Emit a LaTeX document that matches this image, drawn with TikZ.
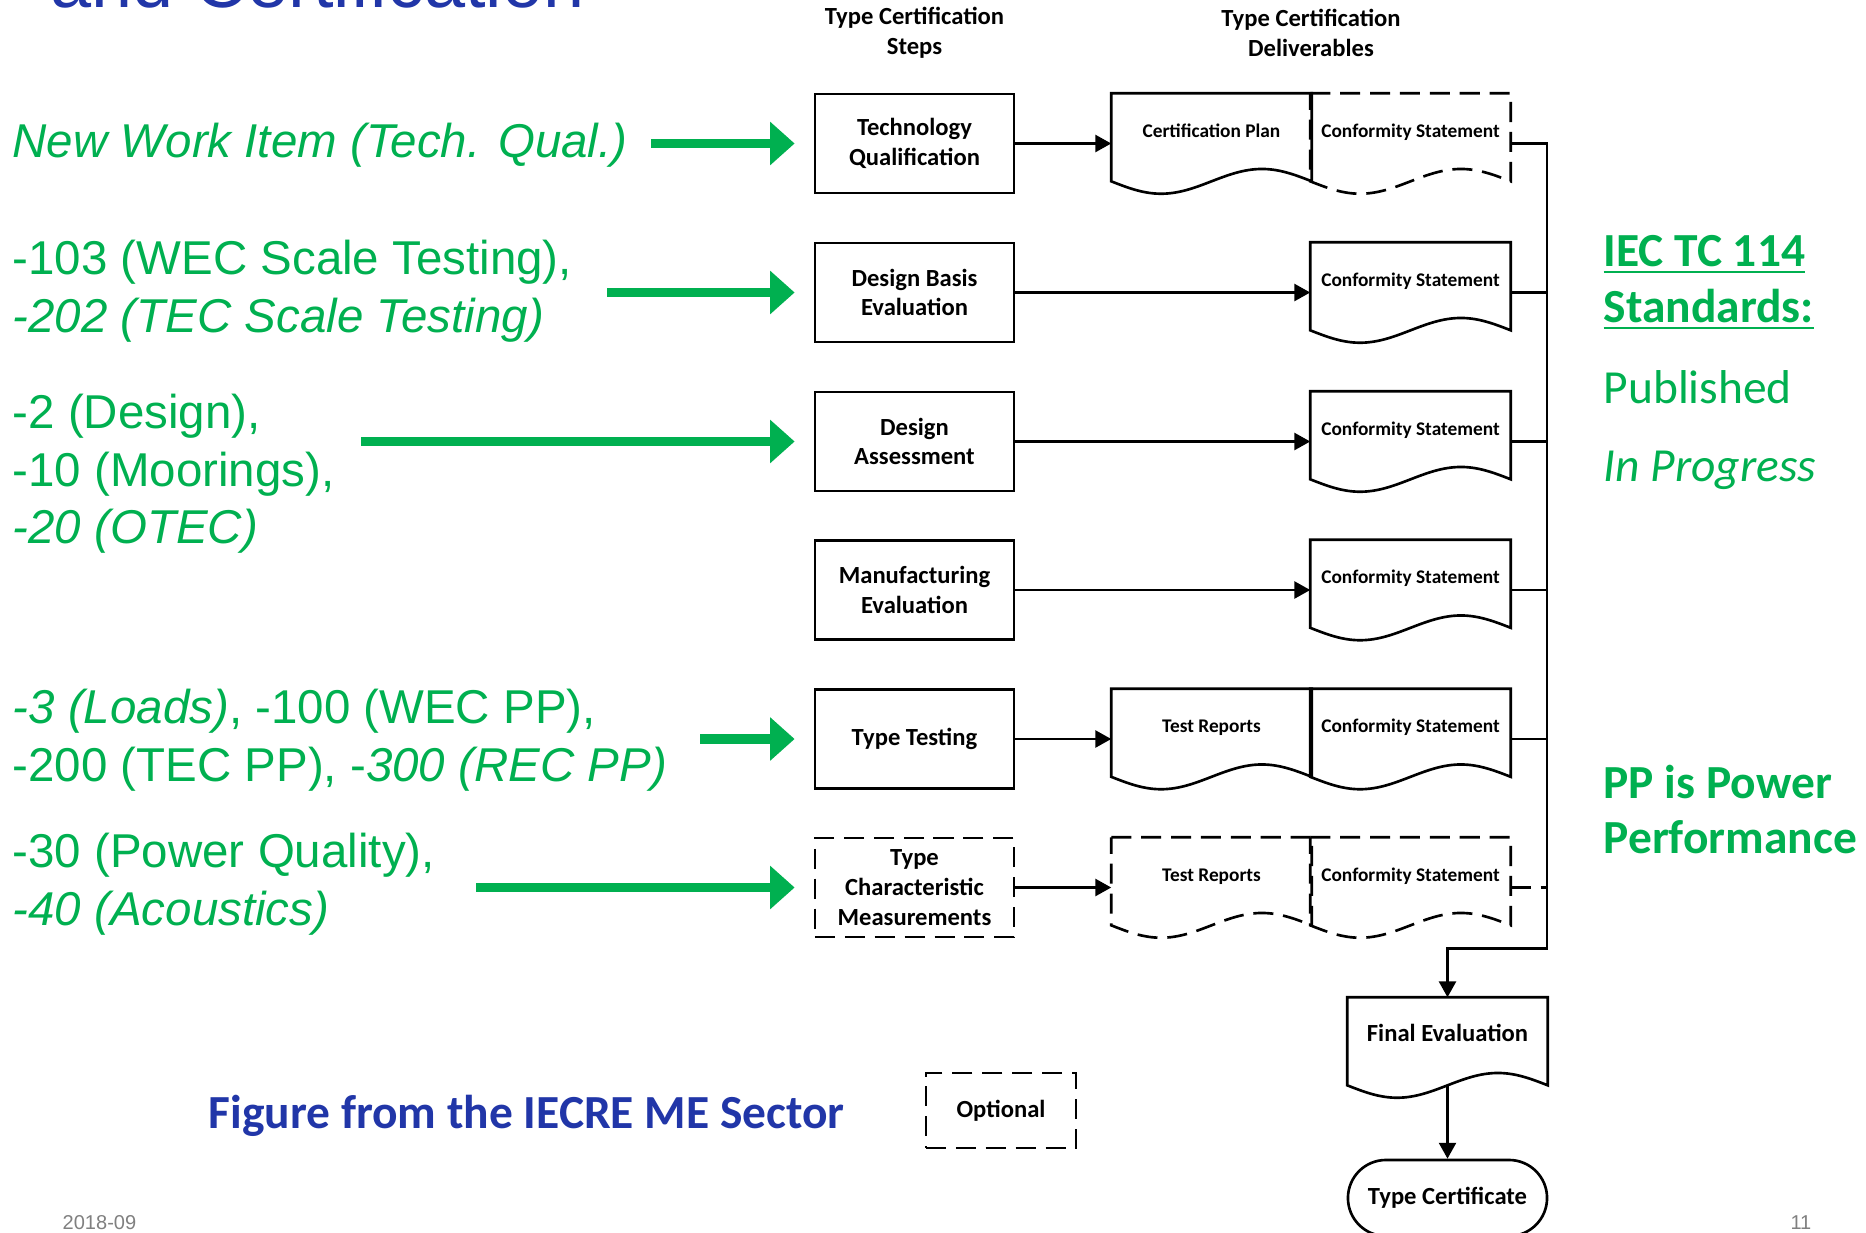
\documentclass[tikz,border=0pt]{standalone}
\usepackage{fontspec}
\setmainfont{Carlito}
\newfontfamily\arialfont{Liberation Sans}
\usetikzlibrary{arrows.meta,calc,shapes.misc}
\definecolor{slidegreen}{HTML}{00B050}
\definecolor{slideblue}{HTML}{2136A8}
\newcommand{\docoutline}[2][]{%
  \draw[#1] (#2.north west) -- (#2.north east) -- ([yshift=0.124cm]#2.south east)
    sin ([xshift=-0.4975cm,yshift=0.2475cm]#2.south east)
    cos ([yshift=0.124cm]#2.south)
    sin ([xshift=0.4975cm]#2.south west)
    cos ([yshift=0.124cm]#2.south west) -- cycle;}
\begin{document}
\begin{tikzpicture}[x=0.01cm,y=-0.01cm]
        \tikzstyle{every node}=[font=\fontsize{7}{8.5}\selectfont\bfseries]
        \tikzstyle{link}=[line width=0.75pt]
        \tikzstyle{flow}=[link, -{Triangle[length=4.5pt,width=4.8pt]}]
        \tikzstyle{optional}=[dash pattern=on 5.7pt off 2.8pt]
        \tikzstyle{stepbox}=[draw, link, minimum width=1.99cm, minimum height=0.99cm, inner sep=0pt, align=center]
        \tikzstyle{docbox}=[inner sep=0pt, minimum width=1.99cm, text height=0.43cm, text depth=0.56cm, font=\fontsize{5.5}{6.6}\selectfont\bfseries]
        \tikzstyle{feed}=[line width=2.7pt, slidegreen, -{Triangle[length=7pt,width=12pt]}]
        \tikzstyle{greentext}=[anchor=west, align=left, inner sep=0pt, text=slidegreen, font=\arialfont\fontsize{13.5}{16.4}\selectfont]
        \tikzstyle{keytext}=[anchor=west, align=left, inner sep=0pt, text=slidegreen, font=\fontsize{13.5}{15.9}\selectfont]

        \fill[white] (0,0) rectangle (1866,1233);
        \useasboundingbox (0,0) rectangle (1866,1233);

        \node[anchor=base west, inner sep=0pt, text=slideblue, font=\arialfont\fontsize{21}{25}\selectfont] (title) at (50,7) {and Certification};

        \node[align=center] (hsteps) at (914.5,33) {Type Certification\\Steps};
        \node[align=center] (hdeliv) at (1311,33) {Type Certification\\Deliverables};

        \node[stepbox] (tq) at (914.5,143.5) {Technology\\Qualification};
        \node[stepbox] (dbe) at (914.5,292.5) {Design Basis\\Evaluation};
        \node[stepbox] (da) at (914.5,441.5) {Design\\Assessment};
        \node[stepbox] (me) at (914.5,590) {Manufacturing\\Evaluation};
        \node[stepbox] (tt) at (914.5,739) {Type Testing};
        \node[stepbox, optional] (tcm) at (914.5,887.5) {Type\\Characteristic\\Measurements};

        \node[docbox] (cp) at (1211.5,143.5) {Certification Plan};
        \node[docbox] (cs1) at (1410.5,143.5) {Conformity Statement};
        \node[docbox] (cs2) at (1410.5,292.5) {Conformity Statement};
        \node[docbox] (cs3) at (1410.5,441.5) {Conformity Statement};
        \node[docbox] (cs4) at (1410.5,590) {Conformity Statement};
        \node[docbox] (tr5) at (1211.5,739) {Test Reports};
        \node[docbox] (cs5) at (1410.5,739) {Conformity Statement};
        \node[docbox] (tr6) at (1211.5,887.5) {Test Reports};
        \node[docbox] (cs6) at (1410.5,887.5) {Conformity Statement};
        \node[docbox, font=\fontsize{7}{8.5}\selectfont\bfseries] (fe) at (1447.5,1047.5) {Final Evaluation};
        \node[draw, link, rounded rectangle, minimum width=1.99cm, minimum height=0.76cm, inner sep=0pt] (tc) at (1447.5,1198) {Type Certificate};

        \docoutline[link, optional]{cs1}
        \docoutline[link]{cp}
        \docoutline[link]{cs2}
        \docoutline[link]{cs3}
        \docoutline[link]{cs4}
        \docoutline[link]{tr5}
        \docoutline[link]{cs5}
        \docoutline[link, optional]{tr6}
        \docoutline[link, optional]{cs6}
        \docoutline[link]{fe}

        \draw[flow] (tq.east) -- (cp.west);
        \draw[flow] (dbe.east) -- (cs2.west);
        \draw[flow] (da.east) -- (cs3.west);
        \draw[flow] (me.east) -- (cs4.west);
        \draw[flow] (tt.east) -- (tr5.west);
        \draw[flow] (tcm.east) -- (tr6.west);

        \coordinate (bus) at (1547,948.5);
        \draw[flow] (cs1.east) -| (bus) -| (fe.north);
        \draw[link] (cs2.east) -- (cs2.east -| bus);
        \draw[link] (cs3.east) -- (cs3.east -| bus);
        \draw[link] (cs4.east) -- (cs4.east -| bus);
        \draw[link] (cs5.east) -- (cs5.east -| bus);
        \draw[link, optional] (cs6.east) -- (cs6.east -| bus);
        \draw[flow] ([yshift=0.124cm]fe.south) -- (tc.north);

        \node[draw, link, optional, minimum width=1.5cm, minimum height=0.75cm] (opt) at (1001,1110.5) {Optional};

        \node[greentext] (nwi) at (12,145) {\textit{New Work Item (Tech. Qual.)}};
        \node[greentext] (scale) at (12,291) {-103 (WEC Scale Testing),\\\textit{-202 (TEC Scale Testing)}};
        \node[greentext] (design) at (12,474) {-2 (Design),\\-10 (Moorings),\\\textit{-20 (OTEC)}};
        \node[greentext] (loads) at (12,740.5) {\textit{-3 (Loads)}, -100 (WEC PP),\\-200 (TEC PP), -\textit{300 (REC PP)}};
        \node[greentext] (quality) at (12,884) {-30 (Power Quality),\\\textit{-40 (Acoustics)}};

        \coordinate (f1) at (651,143.5);
        \coordinate (f2) at (607,292.5);
        \coordinate (f3) at (361,441.5);
        \coordinate (f5) at (700,739);
        \coordinate (f6) at (476,887.5);
        \draw[feed] (f1) -- ([xshift=-0.19cm]tq.west);
        \draw[feed] (f2) -- ([xshift=-0.19cm]dbe.west);
        \draw[feed] (f3) -- ([xshift=-0.19cm]da.west);
        \draw[feed] (f5) -- ([xshift=-0.19cm]tt.west);
        \draw[feed] (f6) -- ([xshift=-0.19cm]tcm.west);

        \node[keytext, font=\fontsize{13.5}{15.9}\selectfont\bfseries] (iec) at (1603,283) {\underline{IEC TC 114}\\\underline{Standards:}};
        \node[keytext] (pub) at (1603,387) {Published};
        \node[keytext] (prog) at (1603,470) {\textit{In Progress}};
        \node[keytext, font=\fontsize{13.5}{15.9}\selectfont\bfseries] (pp) at (1603,809.5) {PP is Power\\Performance};

        \node[anchor=west, inner sep=0pt, text=slideblue, font=\fontsize{13.5}{16}\selectfont\bfseries] (source) at (208,1116) {Figure from the IECRE ME Sector};

        \node[anchor=west, inner sep=0pt, text=gray, font=\arialfont\fontsize{5.7}{7}\selectfont] (date) at (62,1223) {2018-09};
        \node[anchor=east, inner sep=0pt, text=gray, font=\arialfont\fontsize{5.7}{7}\selectfont] (page) at (1812,1223) {11};
\end{tikzpicture}
\end{document}
